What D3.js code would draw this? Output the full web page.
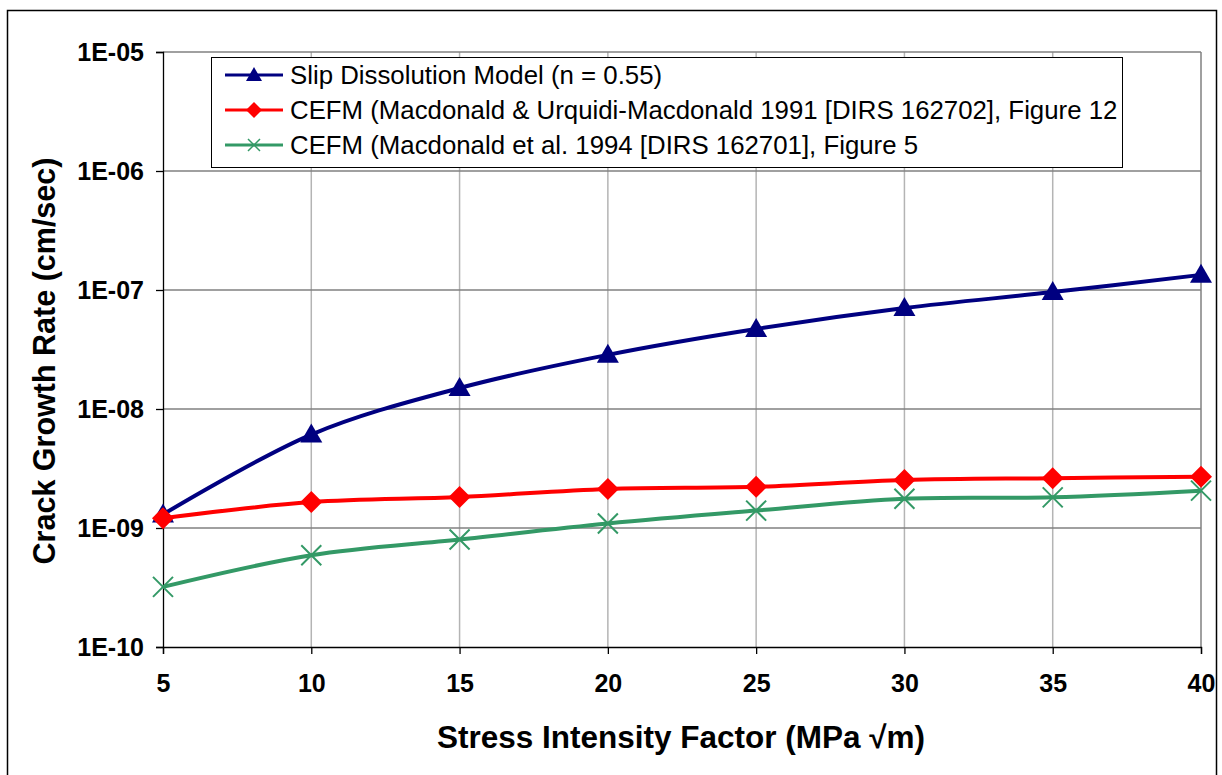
<!DOCTYPE html>
<html><head><meta charset="utf-8">
<script src="https://cdn.jsdelivr.net/npm/d3@7"></script>
<style>
html,body{margin:0;padding:0;background:#fff;}
svg text{font-family:"Liberation Sans",Arial,sans-serif;}
</style></head>
<body><svg id="c" width="1222" height="775"></svg>
<script>
const xValues = [5, 10, 15, 20, 25, 30, 35, 40];
const slipDissolution = [1.3e-9, 6.1e-9, 1.5e-8, 2.85e-8, 4.7e-8, 7.05e-8, 9.6e-8, 1.34e-7];
const cefm1991 = [1.21e-9, 1.65e-9, 1.82e-9, 2.13e-9, 2.22e-9, 2.53e-9, 2.62e-9, 2.70e-9];
const cefm1994 = [3.2e-10, 5.9e-10, 8.0e-10, 1.09e-9, 1.40e-9, 1.76e-9, 1.81e-9, 2.06e-9];
const xTicks = [5, 10, 15, 20, 25, 30, 35, 40];
const yTicks = [1e-10, 1e-9, 1e-8, 1e-7, 1e-6, 1e-5];
const yTickLabels = ["1E-10", "1E-09", "1E-08", "1E-07", "1E-06", "1E-05"];
const seriesNames = [
  "Slip Dissolution Model (n = 0.55)",
  "CEFM (Macdonald & Urquidi-Macdonald 1991 [DIRS 162702], Figure 12",
  "CEFM (Macdonald et al. 1994 [DIRS 162701], Figure 5"
];
const xTitle = "Stress Intensity Factor (MPa \u221Am)";
const yTitle = "Crack Growth Rate (cm/sec)";

const series = [
  {name: seriesNames[0], values: slipDissolution, color: "#000080", marker: "triangle"},
  {name: seriesNames[1], values: cefm1991, color: "#FF0000", marker: "diamond"},
  {name: seriesNames[2], values: cefm1994, color: "#339966", marker: "x"}
];

const svg = d3.select("#c");
const L = 163, R = 1201, T = 52, B = 647;
const x = d3.scaleLinear().domain([5, 40]).range([L, R]);
const y = d3.scaleLog().domain([1e-10, 1e-5]).range([B, T]);

// outer border
svg.append("rect").attr("x", 7.5).attr("y", 10.5).attr("width", 1209).attr("height", 780)
  .attr("fill", "none").attr("stroke", "#000").attr("stroke-width", 1.5);

// vertical grid
svg.append("g").selectAll("line").data(xTicks.slice(1, -1)).join("line")
  .attr("x1", d => x(d)).attr("x2", d => x(d)).attr("y1", T).attr("y2", B)
  .attr("stroke", "#b4b4b4").attr("stroke-width", 1.5);
// horizontal grid
svg.append("g").selectAll("line").data(yTicks.slice(1)).join("line")
  .attr("x1", L).attr("x2", R).attr("y1", d => y(d)).attr("y2", d => y(d))
  .attr("stroke", "#808080").attr("stroke-width", 1.3);
// right border
svg.append("line").attr("x1", R).attr("x2", R).attr("y1", T).attr("y2", B)
  .attr("stroke", "#808080").attr("stroke-width", 1.5);

// axes
const xAxis = d3.axisBottom(x).tickValues(xTicks).tickSize(7).tickPadding(20).tickFormat(d3.format("d"));
const gx = svg.append("g").attr("transform", `translate(0,${B})`).call(xAxis);
gx.select(".domain").attr("stroke", "#000").attr("stroke-width", 1.3);
gx.selectAll(".tick line").attr("stroke", "#000").attr("stroke-width", 1.3);
gx.selectAll(".tick text").attr("font-size", 25).attr("font-weight", "bold").attr("fill", "#000")
  .attr("font-family", "Liberation Sans, Arial, sans-serif");

const yAxis = d3.axisLeft(y).tickValues(yTicks).tickSize(7).tickPadding(12)
  .tickFormat((d, i) => yTickLabels[i]);
const gy = svg.append("g").attr("transform", `translate(${L},0)`).call(yAxis);
gy.select(".domain").attr("stroke", "#000").attr("stroke-width", 1.3);
gy.selectAll(".tick line").attr("stroke", "#000").attr("stroke-width", 1.3);
gy.selectAll(".tick text").attr("font-size", 25).attr("font-weight", "bold").attr("fill", "#000")
  .attr("font-family", "Liberation Sans, Arial, sans-serif").attr("dy", "0.35em");

// titles
svg.append("text").attr("x", (437 + 925) / 2).attr("y", 748).attr("text-anchor", "middle")
  .attr("font-size", 31.5).attr("font-weight", "bold").text(xTitle);
svg.append("text").attr("transform", `translate(55,${(160 + 562) / 2}) rotate(-90)`)
  .attr("text-anchor", "middle").attr("font-size", 30.5).attr("font-weight", "bold").text(yTitle);

// markers
function drawMarker(g, type, color, cx, cy) {
  if (type === "triangle") {
    g.append("path").attr("d", `M${cx},${cy - 11}L${cx + 11},${cy + 8}L${cx - 11},${cy + 8}Z`).attr("fill", color);
  } else if (type === "diamond") {
    g.append("path").attr("d", `M${cx},${cy - 11}L${cx + 11},${cy}L${cx},${cy + 11}L${cx - 11},${cy}Z`).attr("fill", color);
  } else {
    const r = 10;
    g.append("path").attr("d", `M${cx - r},${cy - r}L${cx + r},${cy + r}M${cx - r},${cy + r}L${cx + r},${cy - r}`)
      .attr("stroke", color).attr("stroke-width", 2).attr("fill", "none");
  }
}

const line = d3.line().x((d, i) => x(xValues[i])).y(d => y(d)).curve(d3.curveCatmullRom.alpha(0.5));
const plot = svg.append("g");
series.forEach(s => {
  plot.append("path").attr("d", line(s.values)).attr("fill", "none")
    .attr("stroke", s.color).attr("stroke-width", 4).attr("stroke-linejoin", "round");
});
series.forEach(s => {
  const g = plot.append("g");
  s.values.forEach((v, i) => drawMarker(g, s.marker, s.color, x(xValues[i]), y(v)));
});

// legend
const lg = svg.append("g");
lg.append("rect").attr("x", 211.5).attr("y", 57.5).attr("width", 911).attr("height", 110)
  .attr("fill", "#fff").attr("stroke", "#000").attr("stroke-width", 1);
const rowY = [75, 110, 145];
series.forEach((s, i) => {
  lg.append("line").attr("x1", 225).attr("x2", 283).attr("y1", rowY[i]).attr("y2", rowY[i])
    .attr("stroke", s.color).attr("stroke-width", 3);
  const g = lg.append("g");
  if (s.marker === "x") {
    const r = 6;
    g.append("path").attr("d", `M${254 - r},${rowY[i] - r}L${254 + r},${rowY[i] + r}M${254 - r},${rowY[i] + r}L${254 + r},${rowY[i] - r}`)
      .attr("stroke", s.color).attr("stroke-width", 1.5);
  } else if (s.marker === "triangle") {
    g.append("path").attr("d", `M254,${rowY[i] - 8}L262,${rowY[i] + 6}L246,${rowY[i] + 6}Z`).attr("fill", s.color);
  } else {
    g.append("path").attr("d", `M254,${rowY[i] - 8}L262,${rowY[i]}L254,${rowY[i] + 8}L246,${rowY[i]}Z`).attr("fill", s.color);
  }
  lg.append("text").attr("x", 290).attr("y", rowY[i]).attr("dy", "0.35em")
    .attr("font-size", 25.8).attr("fill", "#000").text(s.name);
});
</script></body></html>
